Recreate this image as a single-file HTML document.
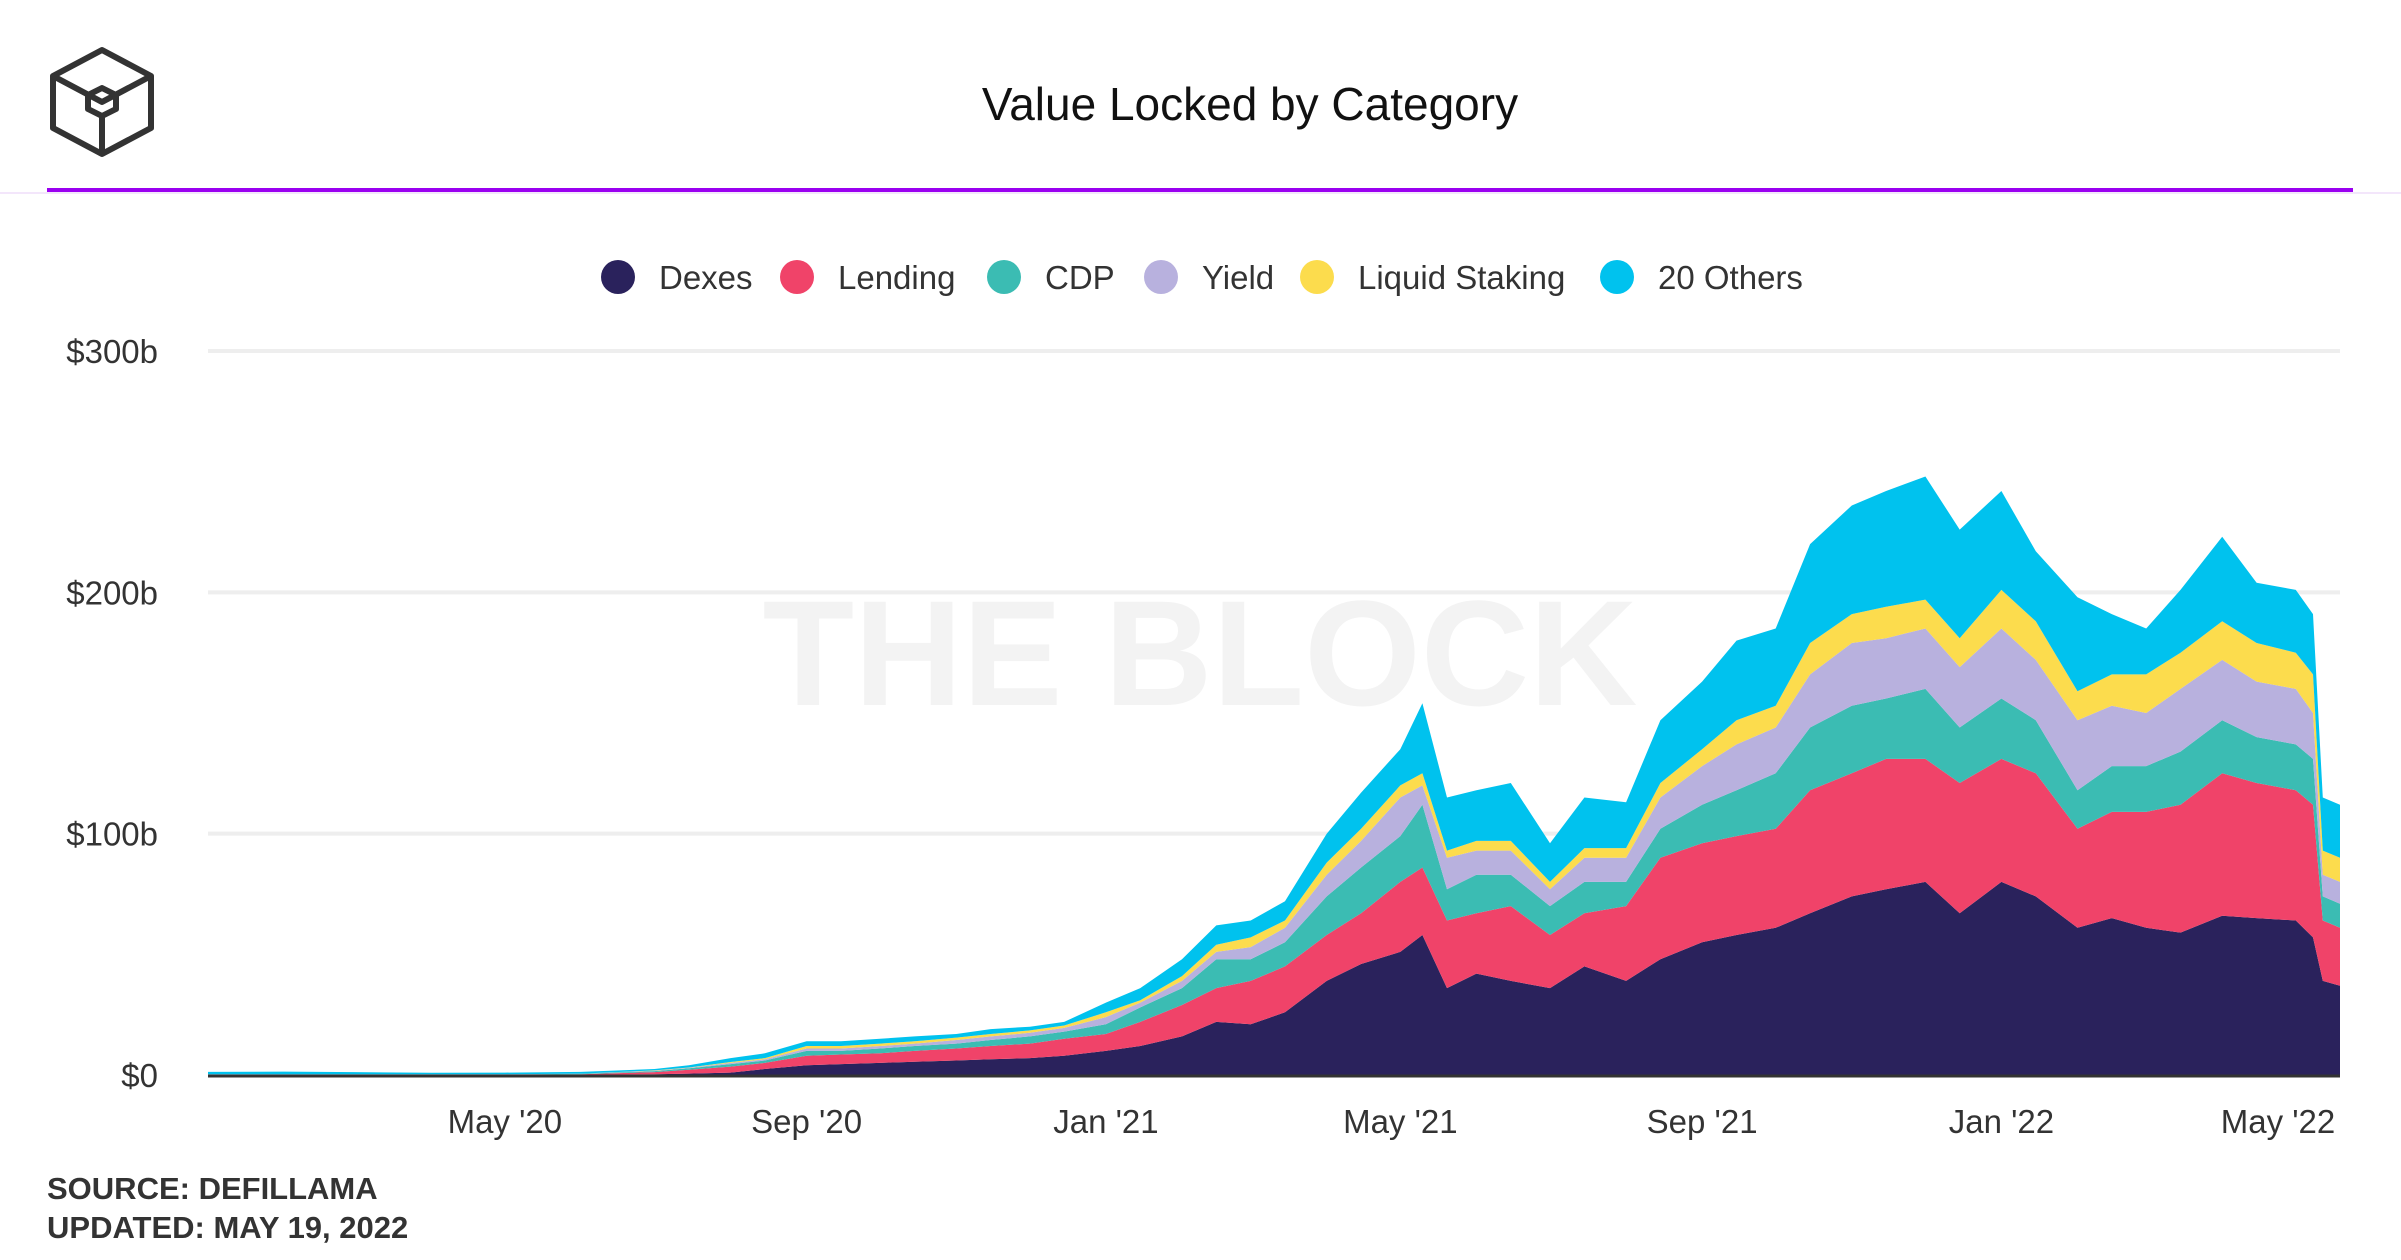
<!DOCTYPE html>
<html><head><meta charset="utf-8"><style>
html,body{margin:0;padding:0;background:#fff;}
body{width:2401px;height:1260px;overflow:hidden;position:relative;font-family:"Liberation Sans",sans-serif;}
</style></head><body>
<svg id="chart" width="2401" height="1260" viewBox="0 0 2401 1260" xmlns="http://www.w3.org/2000/svg" style="position:absolute;left:0;top:0">
  <g fill="none" stroke="#333" stroke-width="6" stroke-linejoin="round">
    <polygon points="102,50 151,76 151,128 102,154 53,128 53,76"/>
    <polyline points="53,76 102,102 151,76"/>
    <polygon points="102,88 116,95 116,109 102,116 88,109 88,95"/>
    <line x1="102" y1="116" x2="102" y2="154"/>
  </g>
  <text x="1250" y="120" text-anchor="middle" font-size="46" fill="#111">Value Locked by Category</text>
  <rect x="0" y="192" width="2401" height="2" fill="#f3e6fb"/>
  <rect x="47" y="188" width="2306" height="4" fill="#9a00f0"/>
  <g id="legend" font-size="33" fill="#333"></g>
  <text x="1200" y="705" text-anchor="middle" font-size="150" font-weight="bold" fill="#f3f3f3">THE BLOCK</text>
  <g id="grid"></g>
  <g id="areas"></g>
  <g id="axes" font-size="33" fill="#333"></g>
  <text x="47" y="1199" font-size="31" font-weight="bold" fill="#333">SOURCE: DEFILLAMA</text>
  <text x="47" y="1238" font-size="31" font-weight="bold" fill="#333">UPDATED: MAY 19, 2022</text>
</svg>
<script>
const dates = ["2020-01-01","2020-02-01","2020-03-01","2020-04-01","2020-05-01","2020-06-01","2020-07-01","2020-07-15","2020-08-01","2020-08-15","2020-09-01","2020-09-15","2020-10-01","2020-10-15","2020-11-01","2020-11-15","2020-12-01","2020-12-15",
"2021-01-01","2021-01-15","2021-02-01","2021-02-15","2021-03-01","2021-03-15","2021-04-01","2021-04-15","2021-05-01","2021-05-10","2021-05-20","2021-06-01","2021-06-15","2021-07-01","2021-07-15","2021-08-01","2021-08-15","2021-09-01","2021-09-15","2021-10-01","2021-10-15","2021-11-01","2021-11-15","2021-12-01","2021-12-15",
"2022-01-01","2022-01-15","2022-02-01","2022-02-15","2022-03-01","2022-03-15","2022-04-01","2022-04-15","2022-05-01","2022-05-08","2022-05-12","2022-05-19"];
const dexes   = [0,0,0,0,0,0.1,0.3,0.6,1.0,2.5,4,4.5,5,5.5,6,6.5,7,8, 10,12,16,22,21,26,39,46,51,58,36,42,39,36,45,39,48,55,58,61,67,74,77,80,67, 80,74,61,65,61,59,66,65,64,57,39,37];
const lending = [0.1,0.1,0.1,0.1,0.1,0.2,0.9,1.6,2.5,2.5,4,4,4,4.5,5,5.5,6,7, 7,10,13,14,18,19,19,21,29,28,28,25,31,22,22,31,42,41,41,41,51,51,54,51,54, 51,51,41,44,48,53,59,56,54,55,25,24];
const cdp     = [0.1,0.1,0.1,0.1,0.1,0.2,0.4,0.6,1.0,1,2,1.5,2,2,2,2.5,3,3, 4,6,7,12,9,10,16,19,19,26,13,16,13,12,13,10,12,16,19,23,26,28,25,29,23, 25,22,16,19,19,22,22,19,19,19,10,10];
const yieldS  = [0.1,0.1,0.1,0.1,0.1,0.1,0.2,0.2,0.5,0.5,1,1,1,1,1.5,1.5,1.5,1.5, 3,2,3,3,5,6,9,11,16,8,13,10,10,7,10,10,13,16,19,19,22,26,25,25,25, 29,25,29,25,22,26,25,23,23,19,9,9];
const liquidStaking = [0,0,0,0,0,0,0.1,0.1,0.4,0.5,1,1,1,1,1,1,1,1, 2,1,2,3,4,3,5,5,5,5,3,4,4,3,4,4,6,7,10,9,13,12,13,12,12, 16,16,12,13,16,15,16,16,15,16,10,10];
const others  = [1.0,1.1,0.9,0.6,0.7,0.7,0.6,0.9,1.6,2,2,2,2,2,1.5,2,1.5,1.5, 4,5,7,8,7,8,12,15,15,29,22,21,24,16,21,19,26,28,33,32,41,45,48,51,45, 41,29,39,25,19,26,35,25,26,25,22,22];
const seriesNames = ["Dexes","Lending","CDP","Yield","Liquid Staking","20 Others"];
const seriesColors = ["#2a225c","#f04369","#3bbcb3","#b8b1de","#fcdc4d","#00c2ee"];
const yTicks = [0,100,200,300];
const yTickLabels = ["$0","$100b","$200b","$300b"];
const xTicks = ["2020-05-01","2020-09-01","2021-01-01","2021-05-01","2021-09-01","2022-01-01","2022-05-01"];
const xTickLabels = ["May '20","Sep '20","Jan '21","May '21","Sep '21","Jan '22","May '22"];

const NS="http://www.w3.org/2000/svg";
const X0=208, X1=2340, Y0=1075, Y1=351, YMAX=300;
const t0=Date.parse(dates[0]), t1=Date.parse(dates[dates.length-1]);
function xs(d){return X0+(Date.parse(d)-t0)/(t1-t0)*(X1-X0);}
function ys(v){return Y0-v/YMAX*(Y0-Y1);}
function mk(tag,attrs,parent){const e=document.createElementNS(NS,tag);for(const k in attrs)e.setAttribute(k,attrs[k]);parent.appendChild(e);return e;}

const grid=document.getElementById('grid'), axes=document.getElementById('axes'), areas=document.getElementById('areas'), legend=document.getElementById('legend');
yTicks.forEach((v,i)=>{
  if(v>0){const l=mk('line',{x1:X0,x2:X1,y1:ys(v),y2:ys(v),stroke:'#eeeeee','stroke-width':4},grid);
  
  }
  const t=mk('text',{x:158,y:ys(v)+12,'text-anchor':'end'},axes);
  t.textContent=yTickLabels[i];
  
  
});
xTicks.forEach((d,i)=>{
  const x=Math.min(xs(d),X1-62);
  const t=mk('text',{x:x,y:1133,'text-anchor':'middle'},axes);
  t.textContent=xTickLabels[i];
  
  
});
const series=[dexes,lending,cdp,yieldS,liquidStaking,others];
let base=dates.map(()=>0);
series.forEach((s,si)=>{
  const top=base.map((b,i)=>b+s[i]);
  let d='';
  dates.forEach((dt,i)=>{d+=(i?'L':'M')+xs(dt).toFixed(1)+','+ys(top[i]).toFixed(1);});
  for(let i=dates.length-1;i>=0;i--){d+='L'+xs(dates[i]).toFixed(1)+','+ys(base[i]).toFixed(1);}
  const p=mk('path',{d:d+'Z',fill:seriesColors[si]},areas);
  
  
  base=top;
});
const bl=mk('line',{x1:X0,x2:X1,y1:Y0+1,y2:Y0+1,stroke:'#333','stroke-width':3},axes);


const legX=[618,797,1004,1161,1317,1617];
seriesNames.forEach((n,i)=>{
  const g=mk('g',{},legend);
  
  
  mk('circle',{cx:legX[i],cy:277,r:17,fill:seriesColors[i]},g);
  const t=mk('text',{x:legX[i]+41,y:289},g);
  t.textContent=n;
});
</script>
</body></html>
